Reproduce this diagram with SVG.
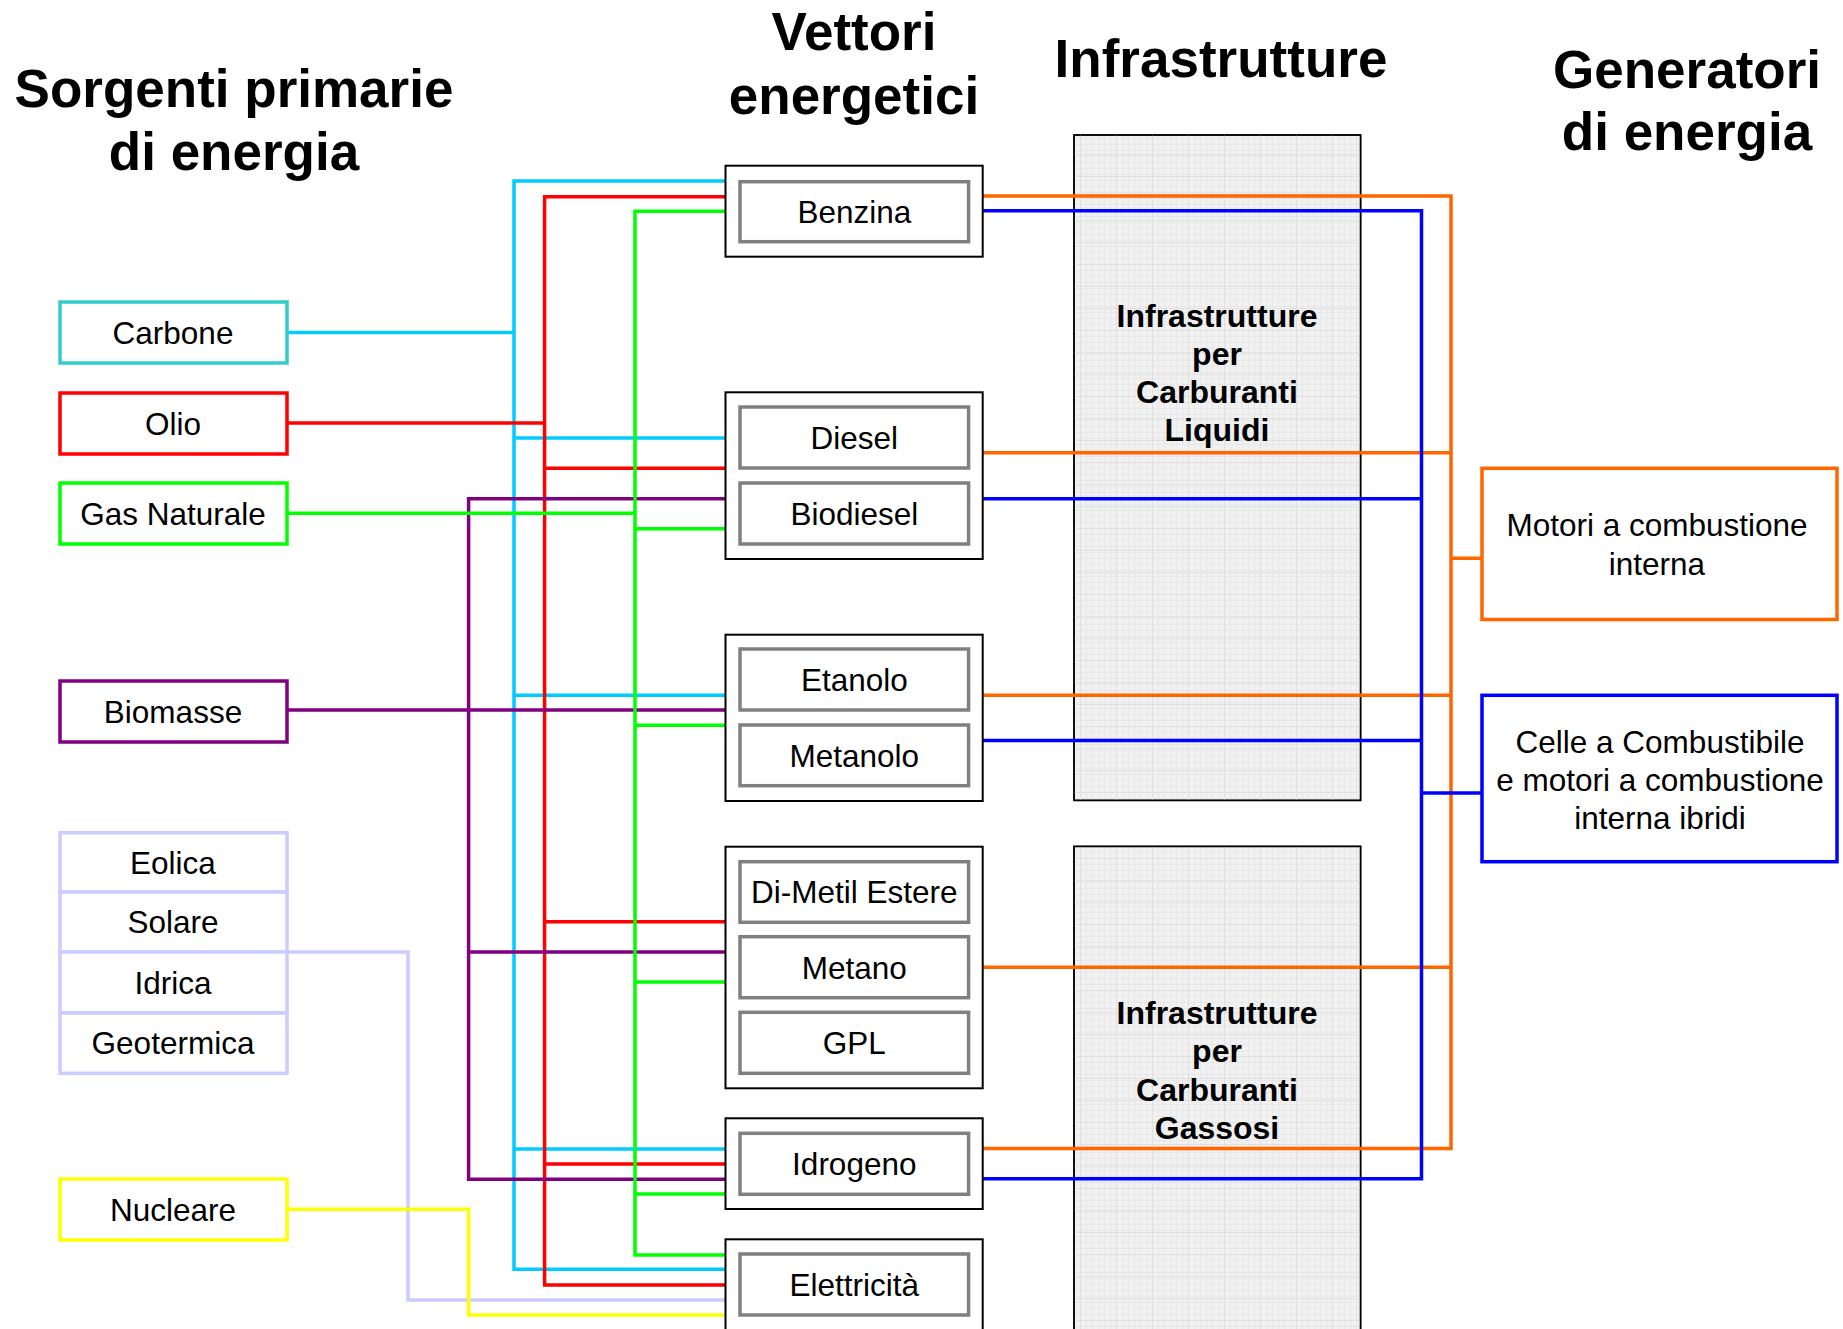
<svg xmlns="http://www.w3.org/2000/svg" width="1843" height="1329" viewBox="0 0 1843 1329">
<defs>
<pattern id="grid" width="6" height="6" patternUnits="userSpaceOnUse">
<rect width="6" height="6" fill="#F1F1F1"/>
<path d="M0,0.5H6M0.5,0V6" stroke="#E8E8E8" stroke-width="1"/>
</pattern>
<pattern id="grid2" width="36" height="22" patternUnits="userSpaceOnUse">
<path d="M0,0.5H36M0.5,0V22" stroke="#E0E0E0" stroke-width="1"/>
</pattern>
</defs>
<style>
.title{font-family:"Liberation Sans",Arial,sans-serif;font-weight:bold;font-size:53px;fill:#000;text-anchor:middle}
.lbl{font-family:"Liberation Sans",Arial,sans-serif;font-size:31.5px;fill:#000;text-anchor:middle}
.ilbl{font-family:"Liberation Sans",Arial,sans-serif;font-weight:bold;font-size:32px;fill:#000;text-anchor:middle}
.src{fill:#fff;stroke-width:3.5}
.outer{fill:#fff;stroke:#000;stroke-width:2}
.inner{fill:#fff;stroke:#808080;stroke-width:3.5}
.infra{stroke:#000;stroke-width:1.5}
.gen{fill:#fff;stroke-width:3.5}
.c{fill:none;stroke-width:3.5;stroke-linejoin:miter}
.cy{stroke:#00CCFF}.rd{stroke:#FF0000}.gr{stroke:#00FF00}.pu{stroke:#800080}.lv{stroke:#CCCCFF}.ye{stroke:#FFFF00}.or{stroke:#FF6600}.bl{stroke:#0000FF}
</style>
<rect width="1843" height="1329" fill="#fff"/>

<g id="titles">
<text class="title" x="234" y="107">Sorgenti primarie</text>
<text class="title" x="234" y="170">di energia</text>
<text class="title" x="854" y="50">Vettori</text>
<text class="title" x="854" y="114">energetici</text>
<text class="title" x="1221" y="77">Infrastrutture</text>
<text class="title" x="1687" y="88">Generatori</text>
<text class="title" x="1687" y="150">di energia</text>
</g>

<g id="infra-liquidi">
<rect class="infra" x="1074" y="135" width="286.6" height="665.4" fill="url(#grid)"/>
<rect x="1074" y="135" width="286.6" height="665.4" fill="url(#grid2)"/>
<rect x="1074" y="135" width="286.6" height="665.4" fill="none" stroke="#000" stroke-width="1.5"/>
<text class="ilbl" x="1217" y="327">Infrastrutture</text>
<text class="ilbl" x="1217" y="365">per</text>
<text class="ilbl" x="1217" y="403">Carburanti</text>
<text class="ilbl" x="1217" y="441">Liquidi</text>
</g>
<g id="infra-gassosi">
<rect class="infra" x="1074" y="846.4" width="286.6" height="500" fill="url(#grid)"/>
<rect x="1074" y="846.4" width="286.6" height="500" fill="url(#grid2)"/>
<rect x="1074" y="846.4" width="286.6" height="500" fill="none" stroke="#000" stroke-width="1.5"/>
<text class="ilbl" x="1217" y="1024">Infrastrutture</text>
<text class="ilbl" x="1217" y="1062">per</text>
<text class="ilbl" x="1217" y="1101">Carburanti</text>
<text class="ilbl" x="1217" y="1139">Gassosi</text>
</g>

<g id="connectors">
<path class="c cy" d="M287,332.5H514"/>
<path class="c cy" d="M725.5,181H514V1269.3H725.5"/>
<path class="c cy" d="M514,438H725.5M514,695.3H725.5M514,1149H725.5"/>
<path class="c rd" d="M287,423H544.6"/>
<path class="c rd" d="M725.5,196.7H544.6V1285H725.5"/>
<path class="c rd" d="M544.6,468.3H725.5M544.6,921.7H725.5M544.6,1164H725.5"/>
<path class="c pu" d="M725.5,498.7H468.6V1179.3H725.5"/>
<path class="c pu" d="M287,710H725.5M468.6,952H725.5"/>
<path class="c gr" d="M287,513.3H635"/>
<path class="c gr" d="M725.5,211.3H635V1255H725.5"/>
<path class="c gr" d="M635,528.7H725.5M635,725.3H725.5M635,982H725.5M635,1194H725.5"/>
<path class="c lv" d="M287,952H408V1300H725.5"/>
<path class="c ye" d="M287,1209.3H468.7V1315H725.5"/>
<path class="c or" d="M982.7,196H1451V1148.6H982.7"/>
<path class="c or" d="M982.7,452.7H1451M982.7,695.3H1451M982.7,967.3H1451M1451,558.3H1482"/>
<path class="c bl" d="M982.7,210.7H1421.5V1178.8H982.7"/>
<path class="c bl" d="M982.7,498.7H1421.5M982.7,740.4H1421.5M1421.5,793H1482"/>
</g>

<g id="carbone"><rect class="src" x="60" y="302" width="227" height="61" stroke="#33CCCC"/><text class="lbl" x="173" y="344">Carbone</text></g>
<g id="olio"><rect class="src" x="60" y="393" width="227" height="61" stroke="#FF0000"/><text class="lbl" x="173" y="435">Olio</text></g>
<g id="gas-naturale"><rect class="src" x="60" y="483" width="227" height="61" stroke="#00FF00"/><text class="lbl" x="173" y="525">Gas Naturale</text></g>
<g id="biomasse"><rect class="src" x="60" y="681" width="227" height="61" stroke="#800080"/><text class="lbl" x="173" y="723">Biomasse</text></g>
<g id="eolica"><rect class="src" x="60" y="832.7" width="227" height="59.3" stroke="#CCCCFF"/><text class="lbl" x="173" y="873.5">Eolica</text></g>
<g id="solare"><rect class="src" x="60" y="892" width="227" height="60" stroke="#CCCCFF"/><text class="lbl" x="173" y="933">Solare</text></g>
<g id="idrica"><rect class="src" x="60" y="952" width="227" height="61" stroke="#CCCCFF"/><text class="lbl" x="173" y="993.5">Idrica</text></g>
<g id="geotermica"><rect class="src" x="60" y="1013" width="227" height="60.3" stroke="#CCCCFF"/><text class="lbl" x="173" y="1054">Geotermica</text></g>
<g id="nucleare"><rect class="src" x="60" y="1179" width="227" height="61" stroke="#FFFF00"/><text class="lbl" x="173" y="1221">Nucleare</text></g>

<g id="grp-benzina"><rect class="outer" x="725.5" y="165.7" width="257.2" height="91"/>
<g id="benzina"><rect class="inner" x="740" y="181.7" width="228.6" height="60"/><text class="lbl" x="854.3" y="223">Benzina</text></g></g>
<g id="grp-diesel"><rect class="outer" x="725.5" y="392.3" width="257.2" height="166.7"/>
<g id="diesel"><rect class="inner" x="740" y="407" width="228.6" height="61"/><text class="lbl" x="854.3" y="449">Diesel</text></g>
<g id="biodiesel"><rect class="inner" x="740" y="483" width="228.6" height="61"/><text class="lbl" x="854.3" y="525">Biodiesel</text></g></g>
<g id="grp-alcoli"><rect class="outer" x="725.5" y="634.7" width="257.2" height="166.3"/>
<g id="etanolo"><rect class="inner" x="740" y="649" width="228.6" height="61"/><text class="lbl" x="854.3" y="691">Etanolo</text></g>
<g id="metanolo"><rect class="inner" x="740" y="725" width="228.6" height="60.7"/><text class="lbl" x="854.3" y="766.5">Metanolo</text></g></g>
<g id="grp-gas"><rect class="outer" x="725.5" y="846.7" width="257.2" height="241.6"/>
<g id="di-metil-estere"><rect class="inner" x="740" y="861.7" width="228.6" height="60.6"/><text class="lbl" x="854.3" y="903">Di-Metil Estere</text></g>
<g id="metano"><rect class="inner" x="740" y="936.7" width="228.6" height="61"/><text class="lbl" x="854.3" y="978.5">Metano</text></g>
<g id="gpl"><rect class="inner" x="740" y="1012.3" width="228.6" height="61"/><text class="lbl" x="854.3" y="1054">GPL</text></g></g>
<g id="grp-idrogeno"><rect class="outer" x="725.5" y="1118.3" width="257.2" height="90.7"/>
<g id="idrogeno"><rect class="inner" x="740" y="1133.3" width="228.6" height="61"/><text class="lbl" x="854.3" y="1175">Idrogeno</text></g></g>
<g id="grp-elettricita"><rect class="outer" x="725.5" y="1239.3" width="257.2" height="110"/>
<g id="elettricita"><rect class="inner" x="740" y="1254" width="228.6" height="61"/><text class="lbl" x="854.3" y="1296">Elettricità</text></g></g>

<g id="motori"><rect class="gen" x="1482" y="468.3" width="355" height="151.2" stroke="#FF6600"/>
<text class="lbl" x="1657" y="536">Motori a combustione</text><text class="lbl" x="1657" y="574.5">interna</text></g>
<g id="celle"><rect class="gen" x="1482" y="695.3" width="355" height="166.4" stroke="#0000FF"/>
<text class="lbl" x="1660" y="752.5">Celle a Combustibile</text><text class="lbl" x="1660" y="790.6">e motori a combustione</text><text class="lbl" x="1660" y="828.7">interna ibridi</text></g>
</svg>
